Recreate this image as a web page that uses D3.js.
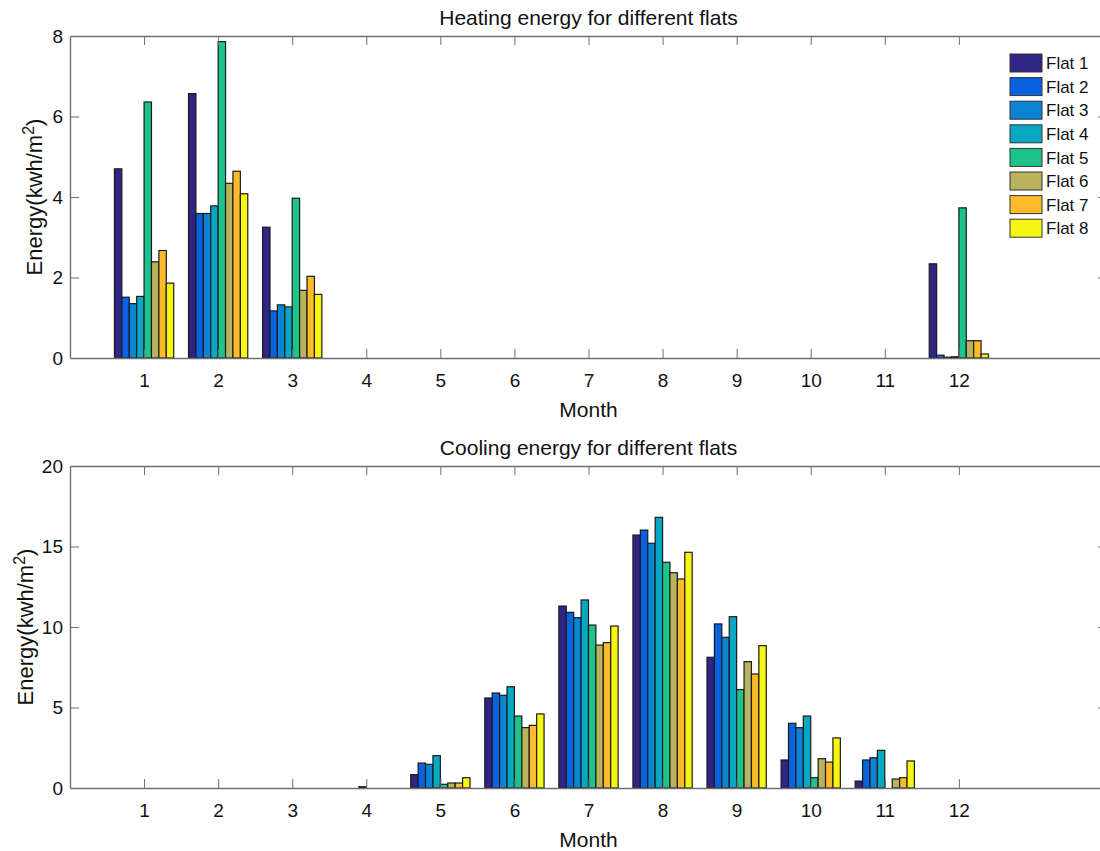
<!DOCTYPE html>
<html>
<head>
<meta charset="utf-8">
<script src="https://cdn.jsdelivr.net/npm/d3@7"></script>
<style>
  body { margin: 0; background: #fff; }
  svg { font-family: "Liberation Sans", Arial, sans-serif; }
</style>
</head>
<body>
<div id="chart"></div>
<script>
const months = [1, 2, 3, 4, 5, 6, 7, 8, 9, 10, 11, 12];
const flats = ["Flat 1", "Flat 2", "Flat 3", "Flat 4", "Flat 5", "Flat 6", "Flat 7", "Flat 8"];
const flatColors = ["#2e2585", "#0862e2", "#0b84d4", "#08a7c4", "#1ec38b", "#bab35d", "#fdbb2c", "#f6f514"];

// heating energy, kwh/m2, one value per month
const heatF1 = [4.70, 6.57, 3.25, 0, 0, 0, 0, 0, 0, 0, 0, 2.34];
const heatF2 = [1.51, 3.59, 1.17, 0, 0, 0, 0, 0, 0, 0, 0, 0.07];
const heatF3 = [1.35, 3.59, 1.32, 0, 0, 0, 0, 0, 0, 0, 0, 0.02];
const heatF4 = [1.53, 3.78, 1.27, 0, 0, 0, 0, 0, 0, 0, 0, 0.03];
const heatF5 = [6.36, 7.86, 3.97, 0, 0, 0, 0, 0, 0, 0, 0, 3.73];
const heatF6 = [2.39, 4.34, 1.68, 0, 0, 0, 0, 0, 0, 0, 0, 0.43];
const heatF7 = [2.67, 4.64, 2.03, 0, 0, 0, 0, 0, 0, 0, 0, 0.43];
const heatF8 = [1.86, 4.08, 1.58, 0, 0, 0, 0, 0, 0, 0, 0, 0.10];

// cooling energy, kwh/m2
const coolF1 = [0, 0, 0, 0, 0.83, 5.59, 11.30, 15.71, 8.12, 1.74, 0.43, 0];
const coolF2 = [0, 0, 0, 0, 1.55, 5.90, 10.91, 16.02, 10.19, 4.02, 1.74, 0];
const coolF3 = [0, 0, 0, 0, 1.47, 5.76, 10.58, 15.20, 9.36, 3.75, 1.88, 0];
const coolF4 = [0, 0, 0, 0.08, 2.01, 6.29, 11.68, 16.81, 10.64, 4.47, 2.34, 0];
const coolF5 = [0, 0, 0, 0, 0.23, 4.47, 10.12, 14.02, 6.11, 0.64, 0, 0];
const coolF6 = [0, 0, 0, 0, 0.31, 3.75, 8.88, 13.37, 7.85, 1.82, 0.56, 0];
const coolF7 = [0, 0, 0, 0, 0.31, 3.89, 9.03, 12.98, 7.08, 1.61, 0.64, 0];
const coolF8 = [0, 0, 0, 0, 0.64, 4.60, 10.06, 14.64, 8.84, 3.11, 1.68, 0];

const heating = [heatF1, heatF2, heatF3, heatF4, heatF5, heatF6, heatF7, heatF8];
const cooling = [coolF1, coolF2, coolF3, coolF4, coolF5, coolF6, coolF7, coolF8];

const heatTicks = [0, 2, 4, 6, 8];
const coolTicks = [0, 5, 10, 15, 20];

const W = 1100, H = 851;
const left = 70, right = 1107;

const svg = d3.select("#chart").append("svg")
    .attr("width", W)
    .attr("height", H);

const x = d3.scaleLinear().domain([0, 14]).range([left, right]);
const step = x(1) - x(0);
const inner = d3.scaleBand()
    .domain(flats)
    .range([-0.4 * step, 0.4 * step])
    .paddingInner(0);

function drawPanel(top, bottom, ymax, yTicks, series, title, ylabelX) {
    const y = d3.scaleLinear().domain([0, ymax]).range([bottom, top]);
    const g = svg.append("g");

    // bars
    series.forEach(function (vals, i) {
        g.append("g")
            .attr("fill", flatColors[i])
            .selectAll("rect")
            .data(months.map((m, j) => ({month: m, v: vals[j]})).filter(d => d.v > 0))
            .enter().append("rect")
            .attr("x", d => x(d.month) + inner(flats[i]))
            .attr("y", d => y(d.v))
            .attr("width", inner.bandwidth())
            .attr("height", d => y(0) - y(d.v))
            .attr("stroke", "#1b1b1b")
            .attr("stroke-width", 1.2);
    });

    const axisColor = "#6f6f6f";

    const xb = g.append("g")
        .attr("transform", `translate(0,${bottom})`)
        .call(d3.axisBottom(x).tickValues(months).tickSizeInner(-9).tickSizeOuter(0).tickPadding(16));
    const xt = g.append("g")
        .attr("transform", `translate(0,${top})`)
        .call(d3.axisTop(x).tickValues(months).tickSizeInner(-9).tickSizeOuter(0).tickFormat(""));
    const yl = g.append("g")
        .attr("transform", `translate(${left},0)`)
        .call(d3.axisLeft(y).tickValues(yTicks).tickSizeInner(-9).tickSizeOuter(0).tickPadding(7));
    const yr = g.append("g")
        .attr("transform", `translate(${right},0)`)
        .call(d3.axisRight(y).tickValues(yTicks).tickSizeInner(-9).tickSizeOuter(0).tickFormat(""));

    [xb, xt, yl, yr].forEach(a => {
        a.select(".domain").attr("stroke", axisColor).attr("stroke-width", 1.4);
        a.selectAll(".tick line").attr("stroke", axisColor);
        a.selectAll("text")
            .attr("fill", "#111")
            .style("font-size", "19px")
            .style("font-family", "Liberation Sans, Arial, sans-serif");
    });
    // no tick marks drawn at the box corners
    yl.selectAll(".tick line").filter(d => d === 0 || d === ymax).remove();
    yr.selectAll(".tick line").filter(d => d === 0 || d === ymax).remove();

    g.append("text")
        .attr("x", (left + right) / 2)
        .attr("y", top - 11)
        .attr("text-anchor", "middle")
        .style("font-size", "21px")
        .attr("fill", "#111")
        .text(title);

    g.append("text")
        .attr("x", (left + right) / 2)
        .attr("y", bottom + 59)
        .attr("text-anchor", "middle")
        .style("font-size", "21px")
        .attr("fill", "#111")
        .text("Month");

    const yl2 = g.append("text")
        .attr("transform", `translate(${ylabelX},${(top + bottom) / 2}) rotate(-90)`)
        .attr("text-anchor", "middle")
        .style("font-size", "22px")
        .attr("fill", "#111");
    yl2.append("tspan").text("Energy(kwh/m");
    yl2.append("tspan").attr("baseline-shift", "super").style("font-size", "16px").text("2");
    yl2.append("tspan").text(")");

    return y;
}

drawPanel(36, 358, 8, heatTicks, heating, "Heating energy for different flats", 42);
drawPanel(466, 788, 20, coolTicks, cooling, "Cooling energy for different flats", 33);

// legend
const legend = svg.append("g")
    .attr("transform", "translate(1010,54)");
const rowH = 23.6;
legend.selectAll("rect")
    .data(flats)
    .enter().append("rect")
    .attr("x", 0)
    .attr("y", (d, i) => i * rowH)
    .attr("width", 32)
    .attr("height", 18)
    .attr("fill", (d, i) => flatColors[i])
    .attr("stroke", "#333")
    .attr("stroke-width", 1);
legend.selectAll("text")
    .data(flats)
    .enter().append("text")
    .attr("x", 36)
    .attr("y", (d, i) => i * rowH + 9)
    .attr("dy", "0.36em")
    .style("font-size", "17px")
    .attr("fill", "#111")
    .text(d => d);
</script>
</body>
</html>
